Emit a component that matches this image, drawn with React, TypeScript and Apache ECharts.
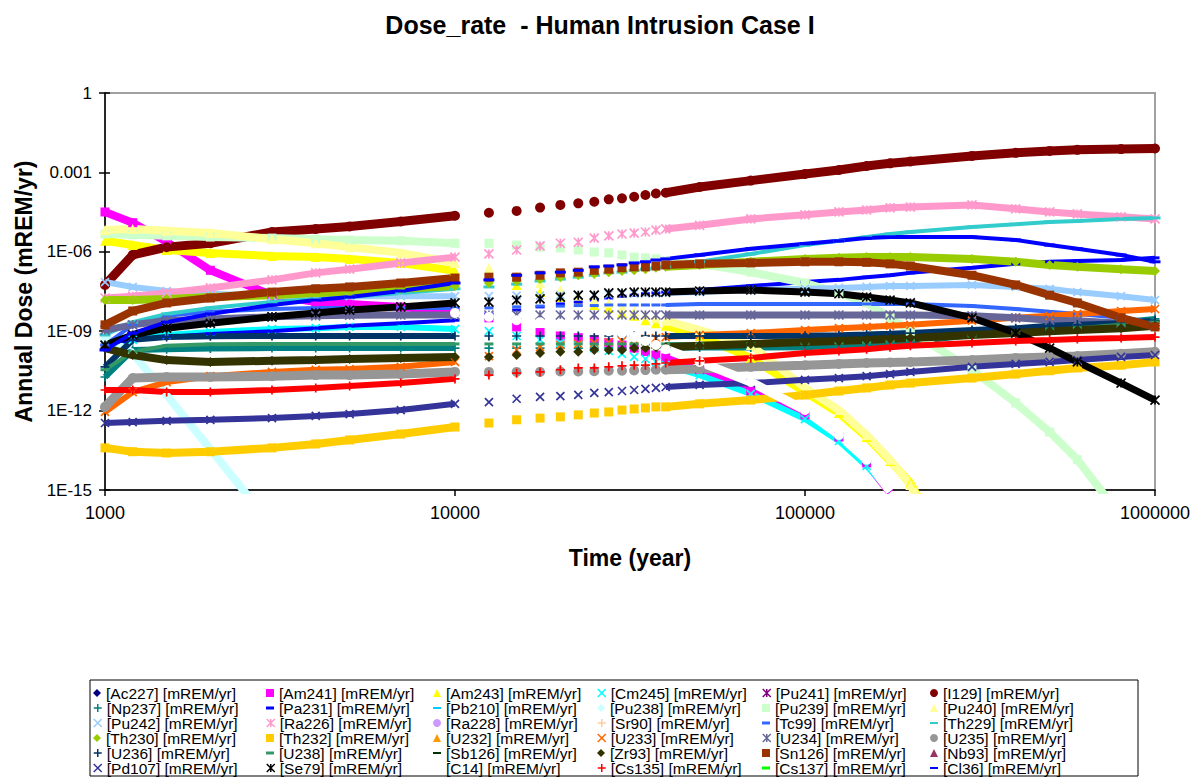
import React, { useEffect, useRef } from "react";
import * as echarts from "echarts";

// ---------- data ----------
const TIMES = [1000, 1200, 1500, 2000, 3000, 4000, 5000, 7000, 10000, 12500, 15000, 17500, 20000, 22500, 25000, 27500, 30000, 32500, 35000, 37500, 40000, 50000, 70000, 100000, 125000, 150000, 175000, 200000, 300000, 400000, 500000, 600000, 800000, 1000000];

const X_TICK_LABELS = ["1000", "10000", "100000", "1000000"];
const Y_TICK_LABELS = ["1", "0.001", "1E-06", "1E-09", "1E-12", "1E-15"];

const NUCLIDES = ["Ac227", "Am241", "Am243", "Cm245", "Pu241", "I129", "Np237", "Pa231", "Pb210", "Pu238", "Pu239", "Pu240", "Pu242", "Ra226", "Ra228", "Sr90", "Tc99", "Th229", "Th230", "Th232", "U232", "U233", "U234", "U235", "U236", "U238", "Sb126", "Zr93", "Sn126", "Nb93", "Pd107", "Se79", "C14", "Cs135", "Cs137", "Cl36"];

type V = (number | null)[];
const AC227: V = [];
const AM241: V = [3.2e-5, 1.26e-5, 2.4e-6, 2.0e-7, 2.3e-8, 1.26e-8, 1.07e-8, 8.2e-9, 5.4e-9, 3.2e-9, 1.45e-9, 8.9e-10, 6.6e-10, 5.7e-10, 4.7e-10, 3.7e-10, 3.0e-10, 2.3e-10, 1.7e-10, 1.26e-10, 9.8e-11, 3.5e-11, 5.5e-12, 6.9e-13, 1.0e-13, 1.05e-14, 8e-16, null, null, null, null, null, null, null];
const AM243: V = [2.6e-6, 1.8e-6, 1.17e-6, 9.1e-7, 6.9e-7, 6.3e-7, 5.4e-7, 3.8e-7, 1.9e-7, 1.3e-7, 5.6e-8, 3.0e-8, 1.95e-8, 1.26e-8, 9.8e-9, 7.6e-9, 4.9e-9, 3.8e-9, 2.6e-9, 2.0e-9, 1.6e-9, 6.6e-10, 9.8e-11, 5.0e-12, 8.1e-13, 1.0e-13, 1.26e-14, 1.86e-15, 1e-19, null, null, null, null, null];
const CM245: V = [3.0e-10, 4.7e-10, 7.2e-10, 9.3e-10, 1.2e-9, 1.3e-9, 1.45e-9, 1.45e-9, 1.2e-9, 1.0e-9, 6.6e-10, 4.7e-10, 3.6e-10, 3.0e-10, 2.3e-10, 1.8e-10, 1.4e-10, 1.07e-10, 8.9e-11, 6.9e-11, 5.2e-11, 2.2e-11, 4.3e-12, 4.8e-13, 7.1e-14, 8.1e-15, 9e-16, null, null, null, null, null, null, null];
const PU241: V = [];
const I129: V = [5.6e-8, 7.6e-7, 1.5e-6, 2.1e-6, 5.6e-6, 7.3e-6, 9.1e-6, 1.4e-5, 2.3e-5, 3.0e-5, 3.5e-5, 4.7e-5, 5.9e-5, 6.8e-5, 7.8e-5, 9.6e-5, 1.05e-4, 1.2e-4, 1.4e-4, 1.6e-4, 1.7e-4, 2.8e-4, 4.9e-4, 8.7e-4, 1.23e-3, 1.74e-3, 2.2e-3, 2.6e-3, 4.2e-3, 5.5e-3, 6.5e-3, 7.1e-3, 7.6e-3, 8.0e-3];
const NP237: V = [1.86e-11, 1.95e-10, 2.1e-10, 2.2e-10, 2.3e-10, 2.3e-10, 2.3e-10, 2.3e-10, 2.3e-10, 2.3e-10, 2.3e-10, 2.3e-10, 2.3e-10, 2.3e-10, 2.3e-10, 2.3e-10, 2.3e-10, 2.3e-10, 2.3e-10, 2.3e-10, 2.3e-10, 2.4e-10, 2.4e-10, 2.5e-10, 2.8e-10, 3.3e-10, 3.6e-10, 3.9e-10, 7.2e-10, 1.0e-9, 1.3e-9, 1.6e-9, 2.2e-9, 2.9e-9];
const PA231: V = [3.0e-10, 4.7e-10, 6.0e-10, 7.9e-10, 1.0e-9, 1.3e-9, 1.6e-9, 2.0e-9, 2.6e-9, 4.5e-9, 6.3e-9, 8.3e-9, 1.07e-8, 1.26e-8, 1.5e-8, 1.8e-8, 2.1e-8, 2.3e-8, 2.6e-8, 2.8e-8, 3.0e-8, 3.6e-8, 5.1e-8, 7.2e-8, 8.7e-8, 1.1e-7, 1.3e-7, 1.6e-7, 2.5e-7, 3.5e-7, 4.2e-7, 4.5e-7, 4.9e-7, 5.9e-7];
const PB210: V = [];
const PU238: V = [5.5e-10, 1.5e-10, 3.9e-12, 3.5e-14, 4.4e-17, null, null, null, null, null, null, null, null, null, null, null, null, null, null, null, null, null, null, null, null, null, null, null, null, null, null, null, null, null];
const PU239: V = [4.7e-6, 4.4e-6, 4.0e-6, 3.6e-6, 3.3e-6, 3.0e-6, 2.8e-6, 2.6e-6, 2.1e-6, 2.1e-6, 1.8e-6, 1.5e-6, 1.4e-6, 1.17e-6, 9.8e-7, 9.1e-7, 7.6e-7, 6.3e-7, 5.9e-7, 5.4e-7, 4.5e-7, 3.5e-7, 1.7e-7, 6.6e-8, 2.8e-8, 1.17e-8, 3.2e-9, 1.0e-9, 3.5e-11, 1.95e-12, 1.55e-13, 1.4e-14, 1e-16, null];
const PU240: V = [6.6e-6, 7.3e-6, 6.2e-6, 5.1e-6, 3.0e-6, 2.1e-6, 1.5e-6, 9.1e-7, 3.8e-7, 2.5e-7, 1.2e-7, 6.6e-8, 3.6e-8, 2.3e-8, 1.5e-8, 1.17e-8, 8.3e-9, 5.8e-9, 4.1e-9, 3.2e-9, 2.5e-9, 1.1e-9, 3.0e-10, 7.2e-12, 1.05e-12, 1.2e-13, 1.4e-14, 1.55e-15, 1e-19, null, null, null, null, null];
const PU242: V = [7.2e-8, 4.7e-8, 3.3e-8, 2.6e-8, 2.1e-8, 2.1e-8, 2.1e-8, 2.1e-8, 2.1e-8, 2.1e-8, 2.2e-8, 2.2e-8, 2.3e-8, 2.3e-8, 2.4e-8, 2.5e-8, 2.6e-8, 2.6e-8, 2.7e-8, 2.7e-8, 2.8e-8, 3.0e-8, 3.6e-8, 4.0e-8, 4.3e-8, 4.7e-8, 5.1e-8, 5.1e-8, 5.6e-8, 4.7e-8, 4.0e-8, 3.0e-8, 2.1e-8, 1.5e-8];
const RA226: V = [1.8e-8, 2.1e-8, 2.8e-8, 4.3e-8, 8.7e-8, 1.6e-7, 2.2e-7, 3.8e-7, 6.3e-7, 8.3e-7, 1.17e-6, 1.66e-6, 2.1e-6, 2.3e-6, 3.3e-6, 4.0e-6, 4.7e-6, 5.1e-6, 5.6e-6, 6.6e-6, 7.3e-6, 1.0e-5, 1.74e-5, 2.5e-5, 3.2e-5, 3.8e-5, 4.6e-5, 4.9e-5, 5.9e-5, 4.2e-5, 3.2e-5, 2.7e-5, 2.1e-5, 1.74e-5];
const RA228: V = [];
const SR90: V = [];
const TC99: V = [3.0e-10, 1.74e-9, 3.8e-9, 5.4e-9, 6.9e-9, 7.6e-9, 7.6e-9, 7.6e-9, 7.6e-9, 7.6e-9, 8.3e-9, 8.9e-9, 8.9e-9, 9.3e-9, 9.3e-9, 9.8e-9, 9.8e-9, 9.8e-9, 9.8e-9, 9.8e-9, 9.8e-9, 1.07e-8, 1.07e-8, 1.07e-8, 1.07e-8, 1.07e-8, 1.07e-8, 1.07e-8, 8.9e-9, 6.9e-9, 5.4e-9, 4.5e-9, 3.2e-9, 2.2e-9];
const TH229: V = [7.2e-10, 2.2e-9, 4.5e-9, 7.6e-9, 1.26e-8, 1.66e-8, 1.95e-8, 2.8e-8, 4.0e-8, 4.7e-8, 6.0e-8, 7.9e-8, 9.3e-8, 1.1e-7, 1.3e-7, 1.6e-7, 1.7e-7, 2.0e-7, 2.2e-7, 2.5e-7, 2.7e-7, 4.2e-7, 8.3e-7, 1.8e-6, 2.6e-6, 3.6e-6, 4.7e-6, 5.6e-6, 8.7e-6, 1.1e-5, 1.35e-5, 1.45e-5, 1.74e-5, 1.9e-5];
const TH230: V = [1.5e-8, 1.5e-8, 1.66e-8, 1.95e-8, 2.3e-8, 2.8e-8, 3.0e-8, 4.0e-8, 5.1e-8, 6.6e-8, 7.9e-8, 9.3e-8, 1.1e-7, 1.3e-7, 1.45e-7, 1.7e-7, 1.9e-7, 2.0e-7, 2.2e-7, 2.5e-7, 2.7e-7, 3.2e-7, 4.2e-7, 5.4e-7, 5.9e-7, 6.3e-7, 6.3e-7, 6.3e-7, 5.4e-7, 4.2e-7, 3.2e-7, 2.7e-7, 2.2e-7, 1.9e-7];
const TH232: V = [3.9e-14, 2.8e-14, 2.5e-14, 2.8e-14, 3.9e-14, 5.5e-14, 7.8e-14, 1.3e-13, 2.4e-13, 3.4e-13, 4.5e-13, 5.2e-13, 5.8e-13, 6.9e-13, 8.1e-13, 8.9e-13, 1.05e-12, 1.15e-12, 1.26e-12, 1.38e-12, 1.38e-12, 1.8e-12, 2.5e-12, 3.9e-12, 5.5e-12, 7.2e-12, 9.3e-12, 1.1e-11, 1.7e-11, 2.4e-11, 3.2e-11, 4.1e-11, 5.2e-11, 6.9e-11];
const U232: V = [];
const U233: V = [8.9e-13, 5.0e-12, 1.2e-11, 2.0e-11, 2.9e-11, 3.5e-11, 3.7e-11, 4.5e-11, 6.9e-11, 1.15e-10, 1.95e-10, 2.5e-10, 3.0e-10, 3.3e-10, 3.6e-10, 3.9e-10, 4.3e-10, 4.7e-10, 5.1e-10, 5.5e-10, 6.0e-10, 7.2e-10, 8.5e-10, 1.1e-9, 1.3e-9, 1.45e-9, 1.6e-9, 1.74e-9, 2.5e-9, 3.2e-9, 3.8e-9, 4.5e-9, 5.8e-9, 6.9e-9];
const U234: V = [1.1e-9, 1.74e-9, 2.5e-9, 2.9e-9, 3.5e-9, 3.8e-9, 4.0e-9, 4.1e-9, 4.1e-9, 4.1e-9, 4.1e-9, 4.1e-9, 4.1e-9, 4.1e-9, 4.1e-9, 4.1e-9, 4.1e-9, 4.1e-9, 4.1e-9, 4.1e-9, 4.1e-9, 4.1e-9, 4.1e-9, 4.1e-9, 4.1e-9, 4.1e-9, 4.1e-9, 4.1e-9, 3.8e-9, 3.2e-9, 2.6e-9, 2.5e-9, 2.0e-9, 1.74e-9];
const U235: V = [1.38e-12, 1.7e-11, 1.86e-11, 1.86e-11, 2.0e-11, 2.2e-11, 2.2e-11, 2.4e-11, 2.9e-11, 2.9e-11, 2.9e-11, 2.9e-11, 3.0e-11, 3.0e-11, 3.1e-11, 3.2e-11, 3.2e-11, 3.3e-11, 3.4e-11, 3.5e-11, 3.5e-11, 3.7e-11, 4.5e-11, 5.2e-11, 5.8e-11, 6.3e-11, 6.6e-11, 6.9e-11, 8.1e-11, 9.8e-11, 1.07e-10, 1.15e-10, 1.4e-10, 1.66e-10];
const U236: V = [4.5e-11, 4.7e-10, 6.0e-10, 6.4e-10, 6.6e-10, 6.6e-10, 6.6e-10, 6.6e-10, 6.6e-10, 6.6e-10, 6.6e-10, 6.6e-10, 6.6e-10, 6.6e-10, 6.6e-10, 6.6e-10, 6.6e-10, 6.6e-10, 6.6e-10, 6.6e-10, 6.6e-10, 6.6e-10, 6.6e-10, 6.8e-10, 7.0e-10, 7.5e-10, 8.0e-10, 8.5e-10, 1.1e-9, 1.3e-9, 1.6e-9, 1.74e-9, 2.0e-9, 2.5e-9];
const U238: V = [3.5e-11, 1.66e-10, 2.8e-10, 3.2e-10, 3.3e-10, 3.3e-10, 3.3e-10, 3.3e-10, 3.3e-10, 3.3e-10, 3.3e-10, 3.3e-10, 3.3e-10, 3.3e-10, 3.3e-10, 3.3e-10, 3.3e-10, 3.3e-10, 3.3e-10, 3.3e-10, 3.3e-10, 3.3e-10, 3.4e-10, 3.5e-10, 3.6e-10, 3.9e-10, 4.3e-10, 4.7e-10, 6.6e-10, 8.5e-10, 1.1e-9, 1.3e-9, 1.74e-9, 2.2e-9];
const SB126: V = [];
const ZR93: V = [2.3e-10, 1.26e-10, 8.1e-11, 6.9e-11, 7.6e-11, 8.1e-11, 8.9e-11, 9.8e-11, 1.07e-10, 1.07e-10, 1.26e-10, 1.5e-10, 1.66e-10, 1.66e-10, 1.95e-10, 1.95e-10, 1.95e-10, 2.3e-10, 2.3e-10, 2.5e-10, 2.5e-10, 2.8e-10, 3.3e-10, 3.9e-10, 4.3e-10, 4.7e-10, 5.1e-10, 5.5e-10, 7.2e-10, 8.5e-10, 1.0e-9, 1.1e-9, 1.3e-9, 1.6e-9];
const SN126: V = [1.74e-9, 5.8e-9, 1.17e-8, 1.8e-8, 3.0e-8, 4.0e-8, 4.7e-8, 6.6e-8, 1.02e-7, 1.1e-7, 1.1e-7, 1.3e-7, 1.6e-7, 1.7e-7, 2.0e-7, 2.2e-7, 2.5e-7, 2.7e-7, 2.7e-7, 2.9e-7, 3.2e-7, 3.5e-7, 3.8e-7, 4.2e-7, 4.2e-7, 4.0e-7, 3.5e-7, 2.9e-7, 1.3e-7, 5.6e-8, 2.3e-8, 1.17e-8, 3.2e-9, 1.45e-9];
const NB93: V = [];
const PD107: V = [3.4e-13, 3.7e-13, 4.1e-13, 4.5e-13, 5.2e-13, 6.3e-13, 7.4e-13, 1.05e-12, 1.8e-12, 2.1e-12, 2.8e-12, 3.3e-12, 3.5e-12, 3.9e-12, 4.7e-12, 5.0e-12, 5.5e-12, 6.0e-12, 6.6e-12, 7.2e-12, 7.8e-12, 9.3e-12, 1.1e-11, 1.45e-11, 1.7e-11, 2.0e-11, 2.4e-11, 2.9e-11, 4.5e-11, 5.8e-11, 6.9e-11, 8.1e-11, 1.07e-10, 1.26e-10];
const SE79: V = [3.0e-10, 7.2e-10, 1.3e-9, 2.0e-9, 3.5e-9, 4.9e-9, 6.3e-9, 8.3e-9, 1.17e-8, 1.26e-8, 1.5e-8, 1.66e-8, 1.95e-8, 2.3e-8, 2.3e-8, 2.8e-8, 2.8e-8, 3.0e-8, 3.0e-8, 3.0e-8, 3.0e-8, 3.3e-8, 3.6e-8, 3.0e-8, 2.6e-8, 1.95e-8, 1.5e-8, 1.17e-8, 3.2e-9, 8.5e-10, 2.3e-10, 6.9e-11, 1.1e-11, 2.5e-12];
const C14: V = [null, null, null, null, null, null, null, null, 4.9e-9, 3.5e-9, 2.6e-9, 2.2e-9, 1.9e-9, 1.6e-9, 1.3e-9, 1.0e-9, 8.5e-10, 6.0e-10, 4.3e-10, 3.0e-10, 2.1e-10, 6.9e-11, 1.2e-11, 1.05e-12, 1.2e-13, 1.4e-14, 9e-16, null, null, null, null, null, null, null];
const CS135: V = [6.0e-12, 6.0e-12, 5.0e-12, 5.0e-12, 6.0e-12, 7.2e-12, 8.5e-12, 1.1e-11, 1.58e-11, 2.2e-11, 2.6e-11, 2.9e-11, 3.5e-11, 4.1e-11, 4.1e-11, 4.5e-11, 4.9e-11, 5.2e-11, 5.2e-11, 5.8e-11, 6.3e-11, 7.6e-11, 9.8e-11, 1.5e-10, 1.8e-10, 2.1e-10, 2.5e-10, 2.8e-10, 3.6e-10, 4.3e-10, 4.7e-10, 5.1e-10, 5.5e-10, 6.0e-10];
const CS137: V = [];
const CL36: V = [1.95e-10, 8.5e-10, 2.2e-9, 4.5e-9, 9.8e-9, 1.5e-8, 1.95e-8, 3.3e-8, 6.6e-8, 8.7e-8, 1.3e-7, 1.6e-7, 1.7e-7, 2.0e-7, 2.7e-7, 2.9e-7, 3.2e-7, 3.8e-7, 4.2e-7, 4.9e-7, 5.4e-7, 7.6e-7, 1.3e-6, 2.0e-6, 2.6e-6, 3.3e-6, 3.6e-6, 3.6e-6, 3.6e-6, 2.8e-6, 1.8e-6, 1.3e-6, 7.6e-7, 4.2e-7];

const VALUES: V[] = [AC227, AM241, AM243, CM245, PU241, I129, NP237, PA231, PB210, PU238, PU239, PU240, PU242, RA226, RA228, SR90, TC99, TH229, TH230, TH232, U232, U233, U234, U235, U236, U238, SB126, ZR93, SN126, NB93, PD107, SE79, C14, CS135, CS137, CL36];

// ---------- styles ----------
const COLORS = ["#000080", "#FF00FF", "#FFFF00", "#00FFFF", "#800080", "#800000", "#008080", "#0000FF", "#00CCFF", "#CCFFFF", "#CCFFCC", "#FFFF99", "#99CCFF", "#FF99CC", "#CC99FF", "#FFCC99", "#3366FF", "#33CCCC", "#99CC00", "#FFCC00", "#FF9900", "#FF6600", "#666699", "#969696", "#003366", "#339966", "#003300", "#333300", "#993300", "#993366", "#333399", "#000000", "#FFFFFF", "#FF0000", "#00FF00", "#0000FF"];
const SHAPES = ["diamond", "square", "triangle", "x", "star", "circle", "plus", "dash", "longdash", "diamond", "square", "triangle", "x", "star", "circle", "plus", "dash", "longdash", "diamond", "square", "triangle", "x", "star", "circle", "plus", "dash", "longdash", "diamond", "square", "triangle", "x", "star", "circle", "plus", "dash", "longdash"];

const FONT = "'Liberation Sans', Arial, Helvetica, sans-serif";
const LEGEND_COLUMNS = 6;
const LEGEND_COL_LEFT = [93, 266, 433, 597, 762, 930];

const SYMBOL: Record<string, string> = {
  diamond: "diamond",
  square: "rect",
  triangle: "triangle",
  circle: "circle",
  x: "path://M0,0L10,10M10,0L0,10",
  star: "path://M0,0L10,10M10,0L0,10M5,0L5,10",
  plus: "path://M5,0L5,10M0,5L10,5",
  dash: "rect",
  longdash: "rect",
};
const LEGEND_ICON: Record<string, string> = {
  diamond: "diamond",
  square: "rect",
  triangle: "triangle",
  circle: "circle",
  x: "path://M0,0L10,10M10,0L0,10",
  star: "path://M0,0L10,10M10,0L0,10M5,0L5,10",
  plus: "path://M5,0L5,10M0,5L10,5",
  dash: "path://M0,0L8,0L8,3L0,3Z",
  longdash: "path://M0,0L12,0L12,3L0,3Z",
};
const SYMBOL_SIZE: Record<string, any> = {
  diamond: 10, square: 9, triangle: 10, circle: 10, x: 8, star: 9, plus: 9, dash: [9, 3], longdash: [11, 3],
};
const LINE_W: Record<string, number> = {
  diamond: 8, square: 8, triangle: 8, circle: 9, x: 6, star: 7, plus: 6, dash: 4, longdash: 4,
};
const STROKED = new Set(["x", "star", "plus"]);

function buildData(vals: V) {
  const out: any[] = [];
  for (let i = 0; i < TIMES.length && i < vals.length; i++) {
    const v = vals[i];
    if (v == null) {
      out.push([TIMES[i], null]);
      continue;
    }
    // isolated markers in the sparse region (no band)
    if (i > 0 && TIMES[i] > 10000 && TIMES[i] <= 40000) {
      out.push([Math.sqrt(TIMES[i - 1] * TIMES[i]), null]);
    }
    out.push([TIMES[i], v]);
  }
  return out;
}

export default function App() {
  const ref = useRef<HTMLDivElement>(null);
  useEffect(() => {
    if (!ref.current) return;
    const chart = echarts.init(ref.current, undefined, { renderer: "svg" });
    const names = NUCLIDES.map((n) => `[${n}] [mREM/yr]`);
    const series = names.map((name, i) => {
      const shape = SHAPES[i];
      const color = COLORS[i];
      const stroked = STROKED.has(shape);
      return {
        name,
        type: "line",
        data: buildData(VALUES[i]),
        symbol: SYMBOL[shape],
        symbolSize: SYMBOL_SIZE[shape],
        showSymbol: true,
        connectNulls: false,
        clip: true,
        lineStyle: { color, width: LINE_W[shape] },
        itemStyle: { color, borderColor: color, borderWidth: stroked ? 1.7 : 0 },
        emphasis: { disabled: true },
        xAxisIndex: 0,
        yAxisIndex: 0,
        z: 2,
      };
    });
    // one small legend per entry, laid out on a 6-column grid like the reference
    const legends = names.map((name, i) => {
      const shape = SHAPES[i];
      const color = COLORS[i];
      const stroked = STROKED.has(shape);
      const col = i % LEGEND_COLUMNS;
      const row = Math.floor(i / LEGEND_COLUMNS);
      return {
        left: LEGEND_COL_LEFT[col],
        top: 685 + row * 15,
        padding: 0,
        itemWidth: 8,
        itemHeight: 8,
        selectedMode: false,
        textStyle: { fontFamily: FONT, fontSize: 15.5, color: "#000" },
        data: [
          {
            name,
            icon: LEGEND_ICON[shape],
            itemStyle: { color, borderColor: color, borderWidth: stroked ? 1.5 : 0 },
          },
        ],
      };
    });
    chart.setOption({
      animation: false,
      backgroundColor: "#ffffff",
      textStyle: { fontFamily: FONT },
      title: {
        text: "Dose_rate  - Human Intrusion Case I",
        left: "center",
        top: 7,
        textStyle: { fontFamily: FONT, fontSize: 25, fontWeight: "bold", color: "#000" },
      },
      grid: {
        left: 105,
        right: 45,
        top: 93,
        bottom: 287,
        show: true,
        borderColor: "#a0a0a0",
        borderWidth: 2,
        backgroundColor: "#ffffff",
      },
      xAxis: {
        type: "log",
        logBase: 10,
        min: 1000,
        max: 1000000,
        name: "Time (year)",
        nameLocation: "middle",
        nameGap: 56,
        nameTextStyle: { fontFamily: FONT, fontSize: 23, fontWeight: "bold", color: "#000" },
        axisLine: { show: true, onZero: false, lineStyle: { color: "#000", width: 1.5 } },
        axisTick: { show: true, length: 6, lineStyle: { color: "#000", width: 1.5 } },
        minorTick: { show: false },
        splitLine: { show: false },
        axisLabel: {
          fontFamily: FONT,
          fontSize: 18,
          color: "#000",
          margin: 14,
          formatter: (v: number) => X_TICK_LABELS[Math.round(Math.log10(v)) - 3] ?? "",
        },
      },
      yAxis: [
        {
          type: "log",
          logBase: 10,
          min: 1e-15,
          max: 1,
          position: "left",
          axisLine: { show: true, onZero: false, lineStyle: { color: "#000", width: 1.5 } },
          axisTick: { show: false },
          axisLabel: { show: false },
          splitLine: { show: false },
          minorTick: { show: false },
        },
        {
          type: "value",
          min: -15,
          max: 0,
          interval: 3,
          position: "left",
          name: "Annual Dose (mREM/yr)",
          nameLocation: "middle",
          nameRotate: 90,
          nameGap: 63,
          nameTextStyle: { fontFamily: FONT, fontSize: 23, fontWeight: "bold", color: "#000" },
          axisLine: { show: false, onZero: false },
          axisTick: { show: true, length: 6, lineStyle: { color: "#000", width: 1.5 } },
          splitLine: { show: false },
          axisLabel: {
            fontFamily: FONT,
            fontSize: 17,
            color: "#000",
            margin: 13,
            formatter: (v: number) => Y_TICK_LABELS[Math.round(-v / 3)] ?? "",
          },
        },
        {
          type: "value",
          min: -15,
          max: 0,
          interval: 3,
          position: "left",
          axisLine: { show: false, onZero: false },
          axisTick: { show: true, inside: true, length: 5, lineStyle: { color: "#000", width: 1.5 } },
          splitLine: { show: false },
          axisLabel: { show: false },
        },
      ],
      legend: legends,
      graphic: [
        {
          type: "rect",
          shape: { x: 90, y: 680, width: 1048, height: 96 },
          style: { fill: "none", stroke: "#000", lineWidth: 1 },
          silent: true,
        },
      ],
      series,
    });
    return () => chart.dispose();
  }, []);
  return (
    <div
      ref={ref}
      style={{ position: "absolute", left: 0, top: 0, width: 1200, height: 777, background: "#fff" }}
    />
  );
}
